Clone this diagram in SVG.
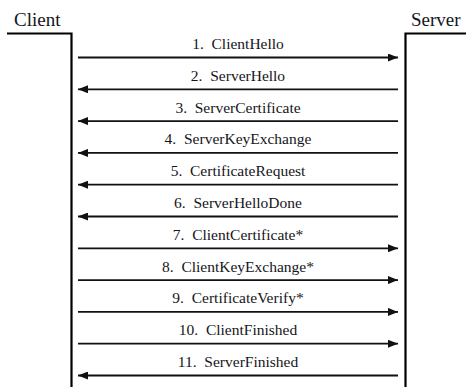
<svg xmlns="http://www.w3.org/2000/svg" width="466" height="387" viewBox="0 0 466 387">
<defs>
<marker id="ah" viewBox="0 0 10 8" refX="10" refY="4" markerWidth="10" markerHeight="8" markerUnits="userSpaceOnUse" orient="auto">
<path d="M0,0 L10,4 L0,8 Z" fill="#111"/>
</marker>
</defs>
<g id="client">
<text x="14" y="25.5" font-family="Liberation Serif" font-size="19" fill="#151520">Client</text>
<path d="M7,33.5 H71.5 V387" fill="none" stroke="#000" stroke-width="2.2"/>
</g>
<g id="server">
<text x="411" y="25.5" font-family="Liberation Serif" font-size="19" fill="#151520">Server</text>
<path d="M466,33.5 H405.5 V387" fill="none" stroke="#000" stroke-width="2.2"/>
</g>
<g id="connectors" stroke="#111" stroke-width="1.8" fill="none">
<line x1="78" y1="57.5" x2="398" y2="57.5" marker-end="url(#ah)"/>
<line x1="398" y1="89.3" x2="78" y2="89.3" marker-end="url(#ah)"/>
<line x1="398" y1="121.1" x2="78" y2="121.1" marker-end="url(#ah)"/>
<line x1="398" y1="152.9" x2="78" y2="152.9" marker-end="url(#ah)"/>
<line x1="398" y1="184.7" x2="78" y2="184.7" marker-end="url(#ah)"/>
<line x1="398" y1="216.5" x2="78" y2="216.5" marker-end="url(#ah)"/>
<line x1="78" y1="248.3" x2="398" y2="248.3" marker-end="url(#ah)"/>
<line x1="78" y1="280.1" x2="398" y2="280.1" marker-end="url(#ah)"/>
<line x1="78" y1="311.9" x2="398" y2="311.9" marker-end="url(#ah)"/>
<line x1="78" y1="343.7" x2="398" y2="343.7" marker-end="url(#ah)"/>
<line x1="398" y1="375.5" x2="78" y2="375.5" marker-end="url(#ah)"/>
</g>
<g id="labels" font-size="15.5" fill="#151520" text-anchor="middle">
<text x="238" y="49" font-family="Liberation Serif">1.&#160; ClientHello</text>
<text x="238" y="80.8" font-family="Liberation Serif">2.&#160; ServerHello</text>
<text x="238" y="112.6" font-family="Liberation Serif">3.&#160; ServerCertificate</text>
<text x="238" y="144.4" font-family="Liberation Serif">4.&#160; ServerKeyExchange</text>
<text x="238" y="176.2" font-family="Liberation Serif">5.&#160; CertificateRequest</text>
<text x="238" y="208" font-family="Liberation Serif">6.&#160; ServerHelloDone</text>
<text x="238" y="239.8" font-family="Liberation Serif">7.&#160; ClientCertificate*</text>
<text x="238" y="271.6" font-family="Liberation Serif">8.&#160; ClientKeyExchange*</text>
<text x="238" y="303.4" font-family="Liberation Serif">9.&#160; CertificateVerify*</text>
<text x="238" y="335.2" font-family="Liberation Serif">10.&#160; ClientFinished</text>
<text x="238" y="367" font-family="Liberation Serif">11.&#160; ServerFinished</text>
</g>
</svg>
